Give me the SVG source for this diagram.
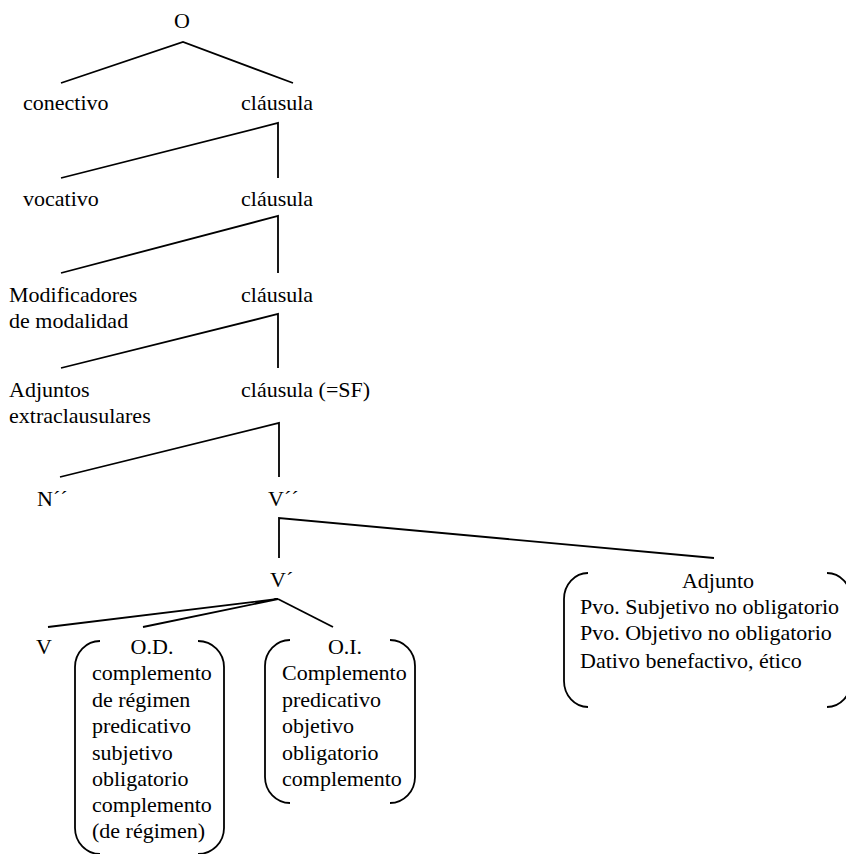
<svg xmlns="http://www.w3.org/2000/svg" width="846" height="854" viewBox="0 0 846 854">
  <style>
    text { font-family: "Liberation Serif", "Times New Roman", serif; font-size: 22px; fill: #000; }
    .mid { text-anchor: middle; }
    .edge { stroke: #000; stroke-width: 1.8; fill: none; stroke-linecap: butt; }
    .brk { stroke: #000; stroke-width: 1.8; fill: none; }
  </style>
  <rect width="846" height="854" fill="#fff"/>

  <!-- tree branches -->
  <g id="connectors">
    <path class="edge" d="M61,83 L183,42 L293,83"/>
    <path class="edge" d="M61,178 L278,123 L278,178"/>
    <path class="edge" d="M61,273 L278,216 L278,273"/>
    <path class="edge" d="M61,368 L278,314 L278,368"/>
    <path class="edge" d="M60,477 L279,423 L279,477"/>
    <path class="edge" d="M279,558 L279,518 L714,558"/>
    <path class="edge" d="M48,627 L278,599 L143,627"/>
    <path class="edge" d="M278,599 L333,627"/>
  </g>

  <g id="node-O"><text x="182" y="28" class="mid">O</text></g>
  <g id="node-conectivo"><text x="23" y="110">conectivo</text></g>
  <g id="node-clausula1"><text x="241" y="110">cláusula</text></g>
  <g id="node-vocativo"><text x="23" y="206">vocativo</text></g>
  <g id="node-clausula2"><text x="241" y="206">cláusula</text></g>
  <g id="node-modificadores">
    <text x="9" y="302">Modificadores</text>
    <text x="9" y="328">de modalidad</text>
  </g>
  <g id="node-clausula3"><text x="241" y="302">cláusula</text></g>
  <g id="node-adjuntos-extra">
    <text x="9" y="397">Adjuntos</text>
    <text x="9" y="423">extraclausulares</text>
  </g>
  <g id="node-clausula-sf"><text x="241" y="397">cláusula (=SF)</text></g>
  <g id="node-N2"><text x="37" y="506">N´´</text></g>
  <g id="node-V2"><text x="268" y="506">V´´</text></g>
  <g id="node-V1"><text x="270" y="587">V´</text></g>
  <g id="node-V"><text x="36" y="654">V</text></g>

  <g id="node-OD">
    <path class="brk" d="M100,641 A25,26 0 0 0 75,667 V828 A25,26 0 0 0 100,854"/>
    <path class="brk" d="M198,641 A26,26 0 0 1 224,667 V828 A26,26 0 0 1 198,854"/>
    <text x="152" y="654" class="mid">O.D.</text>
    <text x="92" y="680">complemento</text>
    <text x="92" y="707">de régimen</text>
    <text x="92" y="733">predicativo</text>
    <text x="92" y="760">subjetivo</text>
    <text x="92" y="786">obligatorio</text>
    <text x="92" y="812">complemento</text>
    <text x="92" y="838">(de régimen)</text>
  </g>

  <g id="node-OI">
    <path class="brk" d="M290,640 A25,26 0 0 0 265,666 V777 A25,26 0 0 0 290,803"/>
    <path class="brk" d="M390,640 A25,26 0 0 1 415,666 V777 A25,26 0 0 1 390,803"/>
    <text x="345" y="654" class="mid">O.I.</text>
    <text x="282" y="680">Complemento</text>
    <text x="282" y="707">predicativo</text>
    <text x="282" y="733">objetivo</text>
    <text x="282" y="760">obligatorio</text>
    <text x="282" y="786">complemento</text>
  </g>

  <g id="node-adjunto">
    <path class="brk" d="M588,573 A24,26 0 0 0 564,599 V681 A24,26 0 0 0 588,707"/>
    <path class="brk" d="M827,573 A24,26 0 0 1 851,599 V681 A24,26 0 0 1 827,707"/>
    <text x="718" y="588" class="mid">Adjunto</text>
    <text x="580" y="614">Pvo. Subjetivo no obligatorio</text>
    <text x="580" y="640">Pvo. Objetivo no obligatorio</text>
    <text x="580" y="668">Dativo benefactivo, ético</text>
  </g>
</svg>
